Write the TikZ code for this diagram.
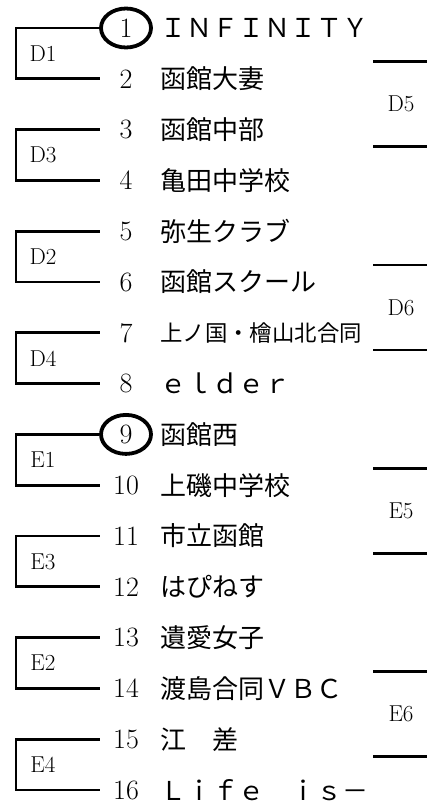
\documentclass[tikz,border=0pt]{standalone}
\usepackage{fontspec}
\newfontfamily\jpfont{Noto Sans CJK JP}
\usetikzlibrary{calc,positioning,shapes.geometric}
\tikzset{
  bracket/.style={line width=2.8pt},
  num/.style={inner sep=0pt, minimum width=52pt, font=\fontsize{28}{30}\selectfont},
  seed/.style={num, ellipse, draw, line width=3.8pt, minimum width=50pt, minimum height=39pt},
  team/.style={anchor=west, inner sep=0pt, font=\jpfont\fontsize{26}{28}\selectfont},
  blocklabel/.style={inner sep=0pt, font=\fontsize{23}{26}\selectfont}
}

\begin{document}
\begin{tikzpicture}[x=1pt, y=-1pt]
  \useasboundingbox (0,0) rectangle (427,803);
  \coordinate (edgeL) at (16,0);

  \foreach \i/\s/\name in {1/seed/ＩＮＦＩＮＩＴＹ, 2/num/函館大妻, 3/num/函館中部,
      4/num/亀田中学校, 5/num/弥生クラブ, 6/num/函館スクール,
      7/num/{\fontsize{22.4}{26}\selectfont 上ノ国・檜山北合同}, 8/num/ｅｌｄｅｒ,
      9/seed/函館西, 10/num/上磯中学校, 11/num/市立函館, 12/num/はぴねす,
      13/num/遺愛女子, 14/num/渡島合同ＶＢＣ, 15/num/江　差, 16/num/Ｌｉｆｅ　ｉｓ－} {
    \node[\s] (n\i) at (126, {28+(\i-1)*50.8}) {\i};
    \node[team] (t\i) at (160, {28+(\i-1)*50.8}) {\name};
  }

  \foreach \a/\b/\lab in {1/2/D1, 3/4/D3, 5/6/D2, 7/8/D4, 9/10/E1, 11/12/E3, 13/14/E2, 15/16/E4} {
    \draw[bracket] (n\a.west) -- (n\a.west -| edgeL) |- (n\b.west);
    \node[blocklabel] (l\lab) at ($(n\a)!.5!(n\b) - (83,0)$) {\lab};
  }

  \foreach \a/\b/\lab in {2/3/D5, 6/7/D6, 10/11/E5, 14/15/E6} {
    \node[blocklabel] (r\lab) at ($(n\a)!.5!(n\b) + (275,0)$) {\lab};
    \draw[bracket] ($(r\lab)+(-28,-42.5)$) -- ($(r\lab)+(30,-42.5)$);
    \draw[bracket] ($(r\lab)+(-28,42.5)$) -- ($(r\lab)+(30,42.5)$);
  }
\end{tikzpicture}
\end{document}
